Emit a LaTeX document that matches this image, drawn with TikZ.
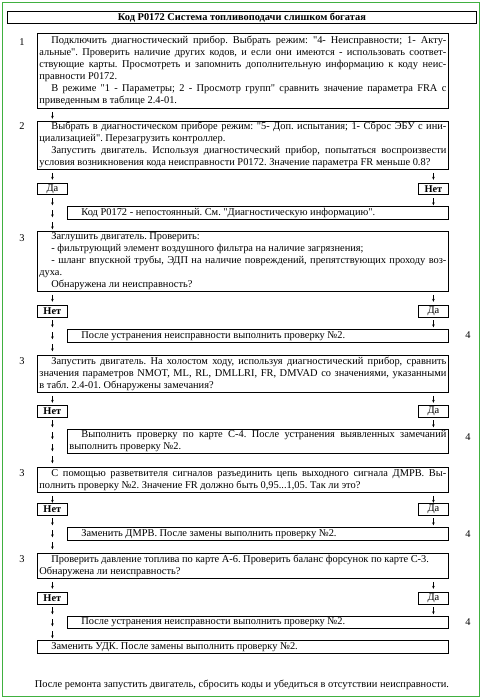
\documentclass[tikz,border=0pt]{standalone}
\usepackage{fontspec}
\setmainfont{Liberation Serif}[Ligatures=TeXOff]
\usetikzlibrary{arrows.meta,decorations.markings}
\definecolor{frameGreen}{RGB}{64,176,64}
\hyphenpenalty=10000
\exhyphenpenalty=10000
\frenchspacing
\newcommand{\ind}{\leavevmode\hbox to 12pt{}}

\begin{document}
\begin{tikzpicture}
	% Styles
	[
	x=1pt, y=-1pt,
	every node/.style={font=\fontsize{10.4}{12}\selectfont},
	titlebox/.style={draw, line width=0.8pt, anchor=north west, minimum width=469pt, minimum height=12pt, inner sep=0pt, font=\fontsize{10.4}{12}\selectfont\bfseries},
	textbox/.style={draw, line width=0.8pt, anchor=north west, inner xsep=2pt, inner ysep=0pt, align=justify, text width=407pt},
	resbox/.style={textbox, text width=377pt},
	answer/.style={draw, line width=0.8pt, anchor=north west, minimum width=30pt, minimum height=11.5pt, inner sep=0pt},
	num/.style={inner sep=0pt},
	tip/.style={-{Stealth[length=3pt,width=2.6pt]}, line width=0.6pt},
	arrowchain/.style={decoration={markings, mark=between positions 3pt and -7pt step 12pt with {\draw[tip] (0pt,0pt) -- (7pt,0pt);}}, decorate},
	]

	\useasboundingbox (0,0) rectangle (482,700);
	\draw[frameGreen, line width=1.5pt] (2.5,2.5) rectangle (479.5,696.5);

	% Nodes
	\node at (7,11)		(title)	[titlebox] {Код P0172 Система топливоподачи слишком богатая};

	\node at (22,42)	(n1)	[num] {1};
	\node at (37,33)	(b1)	[textbox, minimum height=75pt] {\ind Подключить диагностический прибор. Выбрать режим: "4- Неисправности; 1- Акту-\linebreak
		альные". Проверить наличие других кодов, и если они имеются - использовать соответ-\linebreak
		ствующие карты. Просмотреть и запомнить дополнительную информацию к коду неис-\linebreak
		правности P0172.\par
		\ind В режиме "1 - Параметры; 2 - Просмотр групп" сравнить значение параметра FRA с\linebreak
		приведенным в таблице 2.4-01.};

	\node at (22,126)	(n2)	[num] {2};
	\node at (37,121)	(b2)	[textbox, minimum height=48pt] {\ind Выбрать в диагностическом приборе режим: "5- Доп. испытания; 1- Сброс ЭБУ с ини-\linebreak
		циализацией". Перезагрузить контроллер.\par
		\ind Запустить двигатель. Используя диагностический прибор, попытаться воспроизвести\linebreak
		условия возникновения кода неисправности P0172. Значение параметра FR меньше 0.8?};
	\node at (37,183)	(da2)	[answer] {Да};
	\node at (418,183)	(net2)	[answer] {\textbf{Нет}};
	\node at (67,206)	(res2)	[resbox, minimum height=13pt] {\ind Код P0172 - непостоянный. См. "Диагностическую информацию".};

	\node at (22,238)	(n3)	[num] {3};
	\node at (37,231)	(b3)	[textbox, minimum height=60pt] {\ind Заглушить двигатель. Проверить:\par
		\ind -~фильтрующий элемент воздушного фильтра на наличие загрязнения;\par
		\ind -~шланг впускной трубы, ЭДП на наличие повреждений, препятствующих проходу воз-\linebreak
		духа.\par
		\ind Обнаружена ли неисправность?};
	\node at (37,305)	(net3)	[answer] {\textbf{Нет}};
	\node at (418,305)	(da3)	[answer] {Да};
	\node at (67,329)	(res3)	[resbox, minimum height=13pt] {\ind После устранения неисправности выполнить проверку №2.};
	\node at (468,335)	(m3)	[num] {4};

	\node at (22,361)	(n4)	[num] {3};
	\node at (37,355)	(b4)	[textbox, minimum height=37pt] {\ind Запустить двигатель. На холостом ходу, используя диагностический прибор, сравнить\linebreak
		значения параметров NMOT, ML, RL, DMLLRI, FR, DMVAD со значениями, указанными\linebreak
		в табл. 2.4-01. Обнаружены замечания?};
	\node at (37,405)	(net4)	[answer] {\textbf{Нет}};
	\node at (418,405)	(da4)	[answer] {Да};
	\node at (67,429)	(res4)	[resbox, minimum height=24pt] {\ind Выполнить проверку по карте С-4. После устранения выявленных замечаний\linebreak
		выполнить проверку №2.};
	\node at (468,437)	(m4)	[num] {4};

	\node at (22,473)	(n5)	[num] {3};
	\node at (37,467)	(b5)	[textbox, minimum height=25pt] {\ind С помощью разветвителя сигналов разъединить цепь выходного сигнала ДМРВ. Вы-\linebreak
		полнить проверку №2. Значение FR должно быть 0,95...1,05. Так ли это?};
	\node at (37,503)	(net5)	[answer] {\textbf{Нет}};
	\node at (418,503)	(da5)	[answer] {Да};
	\node at (67,527)	(res5)	[resbox, minimum height=13pt] {\ind Заменить ДМРВ. После замены выполнить проверку №2.};
	\node at (468,534)	(m5)	[num] {4};

	\node at (22,559)	(n6)	[num] {3};
	\node at (37,553)	(b6)	[textbox, minimum height=25pt] {\ind Проверить давление топлива по карте А-6. Проверить баланс форсунок по карте С-3.\newline
		Обнаружена ли неисправность?};
	\node at (37,592)	(net6)	[answer] {\textbf{Нет}};
	\node at (418,592)	(da6)	[answer] {Да};
	\node at (67,616)	(res6)	[resbox, minimum height=12pt] {\ind После устранения неисправности выполнить проверку №2.};
	\node at (468,622)	(m6)	[num] {4};

	\node at (37,640)	(b7)	[textbox, minimum height=13pt] {\ind Заменить УДК. После замены выполнить проверку №2.};

	\node at (242,685)	(note)	{После ремонта запустить двигатель, сбросить коды и убедиться в отсутствии неисправности.};

	% Connections
	\path[arrowchain] (b1.south -| da2) -- (b2.north -| da2);
	\path[arrowchain] (b2.south -| da2) -- (da2.north);
	\path[arrowchain] (b2.south -| net2) -- (net2.north);
	\path[arrowchain] (da2.south) -- (b3.north -| da2);
	\path[arrowchain] (net2.south) -- (res2.north -| net2);
	\foreach \i/\j in {3/4, 4/5, 5/6, 6/7} {
		\path[arrowchain] (b\i.south -| net\i) -- (net\i.north);
		\path[arrowchain] (b\i.south -| da\i) -- (da\i.north);
		\path[arrowchain] (net\i.south) -- (b\j.north -| net\i);
		\path[arrowchain] (da\i.south) -- (res\i.north -| da\i);
	}

\end{tikzpicture}
\end{document}
